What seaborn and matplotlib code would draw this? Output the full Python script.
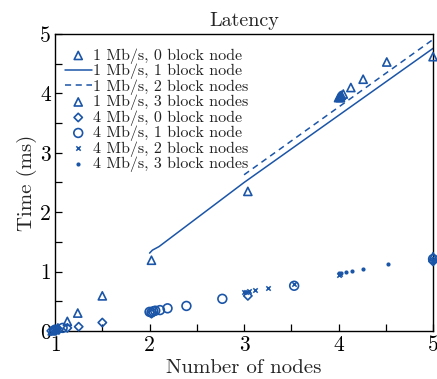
import numpy as np
import pandas as pd
import matplotlib
matplotlib.use("Agg")
import matplotlib.pyplot as plt
import seaborn as sns
from matplotlib.ticker import MultipleLocator, FuncFormatter

# ---- data ----
tri0_x = [0.97, 1.0, 1.03, 1.13, 1.24, 1.50, 2.02, 3.04, 4.02, 5.0]
tri0_y = [0.0, 0.02, 0.05, 0.16, 0.30, 0.59, 1.19, 2.35, 3.93, 1.25]

line1_x = [2.0, 2.03, 2.1, 3.0, 4.0, 5.0]
line1_y = [1.31, 1.36, 1.42, 2.50, 3.63, 4.76]

line2_x = [3.0, 4.0, 5.0]
line2_y = [2.63, 3.77, 4.91]

tri3_x = [4.0, 4.01, 4.02, 4.03, 4.05, 4.13, 4.26, 4.51, 5.0]
tri3_y = [3.93, 3.95, 3.96, 3.97, 3.99, 4.10, 4.24, 4.53, 4.62]

dia0_x = [0.96, 0.99, 1.04, 1.13, 1.25, 1.50, 2.02, 3.04, 5.0]
dia0_y = [0.0, 0.01, 0.02, 0.05, 0.07, 0.14, 0.29, 0.59, 1.17]

circ1_x = [1.0, 1.08, 2.0, 2.02, 2.04, 2.06, 2.11, 2.19, 2.39, 2.77, 3.53, 5.0]
circ1_y = [0.02, 0.05, 0.32, 0.31, 0.33, 0.34, 0.35, 0.38, 0.42, 0.54, 0.76, 1.21]

x2_x = [1.0, 3.0, 3.02, 3.05, 3.12, 3.25, 3.53, 4.0, 4.02, 5.0]
x2_y = [0.01, 0.65, 0.66, 0.68, 0.69, 0.73, 0.79, 0.94, 0.96, 1.20]

dot3_x = [1.0, 4.0, 4.03, 4.08, 4.14, 4.26, 4.52, 5.0]
dot3_y = [0.0, 0.97, 0.97, 0.99, 1.01, 1.05, 1.13, 1.17]

labels = ["1 Mb/s, 0 block node", "1 Mb/s, 1 block node", "1 Mb/s, 2 block nodes",
          "1 Mb/s, 3 block nodes", "4 Mb/s, 0 block node", "4 Mb/s, 1 block node",
          "4 Mb/s, 2 block nodes", "4 Mb/s, 3 block nodes"]

title = "Latency"
xlabel = "Number of nodes"
ylabel = "Time (ms)"

# ---- style ----
sns.set_style("ticks")
plt.rcParams["font.family"] = ["cmr10", "DejaVu Serif"]
plt.rcParams["axes.formatter.use_mathtext"] = True
plt.rcParams["mathtext.fontset"] = "cm"

C = "#1b55a8"

fig = plt.figure(figsize=(4.37, 3.79), dpi=100)
ax = fig.add_axes([0.126, 0.127, 0.865, 0.783])

def scat(x, y, marker, s, label, filled=False, lw=1.2):
    df = pd.DataFrame({"x": x, "y": y})
    if filled:
        sns.scatterplot(data=df, x="x", y="y", marker=marker, s=s, color=C,
                        edgecolor=C, linewidth=0, ax=ax, label=label, clip_on=False, zorder=3)
    elif marker == "x":
        sns.scatterplot(data=df, x="x", y="y", marker=marker, s=s, color=C,
                        linewidth=lw, ax=ax, label=label, clip_on=False, zorder=3)
    else:
        sns.scatterplot(data=df, x="x", y="y", marker=marker, s=s, facecolor="none",
                        edgecolor=C, linewidth=lw, ax=ax, label=label, clip_on=False, zorder=3)

scat(tri0_x, tri0_y, "^", 34, labels[0])
sns.lineplot(x=line1_x, y=line1_y, color=C, lw=1.1, ax=ax, label=labels[1])
sns.lineplot(x=line2_x, y=line2_y, color=C, lw=1.1, ls=(0, (4, 3)), ax=ax, label=labels[2])
scat(tri3_x, tri3_y, "^", 34, labels[3])
scat(dia0_x, dia0_y, "D", 18, labels[4])
scat(circ1_x, circ1_y, "o", 40, labels[5])
scat(x2_x, x2_y, "x", 10, labels[6], lw=1.1)
scat(dot3_x, dot3_y, "o", 9, labels[7], filled=True)

ax.set_xlim(1, 5)
ax.set_ylim(0, 5)
ax.xaxis.set_major_locator(MultipleLocator(0.5))
ax.yaxis.set_major_locator(MultipleLocator(0.5))
fmt = FuncFormatter(lambda v, p: f"{int(round(v))}" if abs(v - round(v)) < 1e-6 else "")
ax.xaxis.set_major_formatter(fmt)
ax.yaxis.set_major_formatter(fmt)
ax.tick_params(direction="in", length=5, width=0.9, labelsize=15.5, colors="black",
               top=False, right=False, pad=3)
for sp in ax.spines.values():
    sp.set_visible(True)
    sp.set_linewidth(1.0)
    sp.set_color("black")

ax.set_title(title, fontsize=14.5, pad=6)
ax.set_xlabel(xlabel, fontsize=15, labelpad=3)
ax.set_ylabel(ylabel, fontsize=15, labelpad=2)

handles, labs = ax.get_legend_handles_labels()
order = [labs.index(l) for l in labels]
leg = ax.legend([handles[i] for i in order], [labs[i] for i in order],
                loc="upper left", frameon=False, fontsize=11.5, handlelength=1.7,
                handletextpad=0.05, labelspacing=0.0, borderaxespad=0.2,
                bbox_to_anchor=(0.0, 0.985))
for t in leg.get_texts():
    t.set_color("#222222")

fig.savefig("out.png", dpi=100)
